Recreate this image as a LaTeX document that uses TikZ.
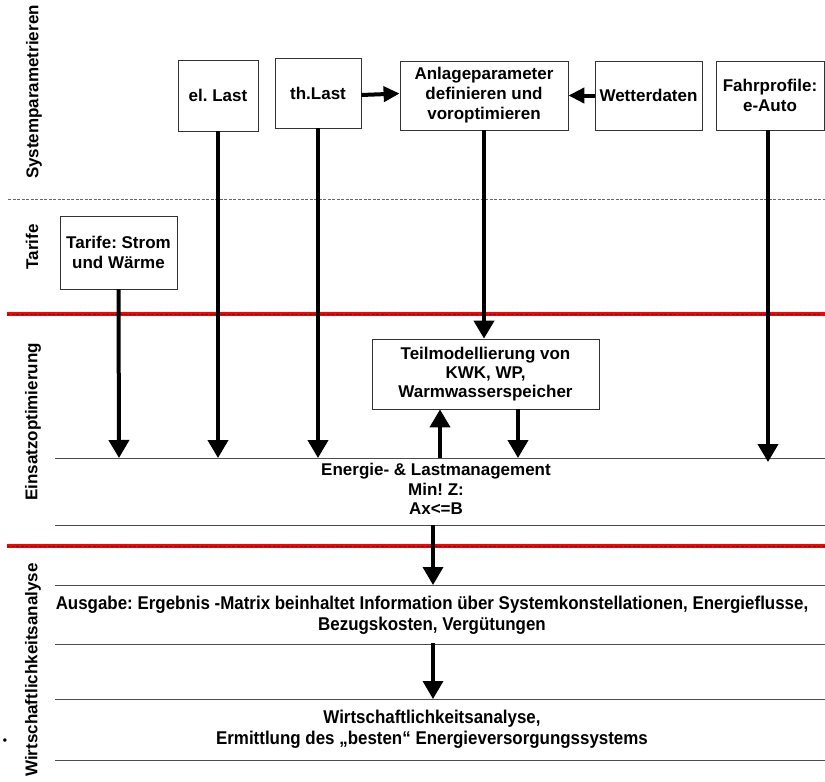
\documentclass[tikz,border=0pt]{standalone}
\usepackage{fontspec}
\setmainfont{Liberation Sans}
\frenchspacing
\usetikzlibrary{arrows.meta}
\begin{document}
\begin{tikzpicture}[x=1pt,y=-1pt,
  box/.style={draw=black!80,line width=0.8pt,align=center,font=\bfseries\fontsize{17}{20}\selectfont,inner sep=1pt},
  lbl/.style={rotate=90,font=\bfseries\fontsize{17}{19}\selectfont},
  txt/.style={align=center,font=\bfseries\fontsize{17}{19.5}\selectfont},
  wtxt/.style={align=center,font=\bfseries\fontsize{18.5}{21.5}\selectfont,xscale=0.915},
  bigarrow/.style={line width=4pt,-{Triangle[length=18pt,width=20pt]}},
  smallarrow/.style={line width=4pt,-{Triangle[length=16pt,width=15pt]}},
  sep/.style={draw=black!70,line width=0.8pt},
  redline/.style={draw=red,line width=4pt},
  gdash/.style={draw=black!60,line width=0.6pt,dash pattern=on 3pt off 1.5pt}
]
\useasboundingbox (0,0) rectangle (825,782);
% separators
\draw[gdash] (8,199) -- (825,199);
\draw[redline] (7,314) -- (825,314);
\draw[gdash,draw=black!80] (7,314) -- (820,314);
\draw[redline] (7,546) -- (825,546);
\draw[gdash,draw=black!80] (7,546) -- (825,546);
\foreach \yy in {458,525,585,644,699,760} \draw[sep] (55,\yy) -- (825,\yy);
% side labels
\node[lbl] (l1) at (34,92) {Systemparametrieren};
\node[lbl] (l2) at (32,247) {Tarife};
\node[lbl] (l3) at (33,422) {Einsatzoptimierung};
\node[lbl] (l4) at (33,670) {Wirtschaftlichkeitsanalyse};
\node[font=\bfseries\fontsize{12}{12}\selectfont] (dot) at (5,742) {•};
% boxes
\node[box,minimum width=80pt,minimum height=71pt] (el) at (218,95.5) {el. Last};
\node[box,minimum width=86pt,minimum height=70pt] (th) at (318,93) {th.Last};
\node[box,minimum width=168pt,minimum height=69pt] (an) at (484,95.5) {Anlageparameter\\definieren und\\voroptimieren};
\node[box,minimum width=107pt,minimum height=69pt] (we) at (648.5,95.5) {Wetterdaten};
\node[box,minimum width=108pt,minimum height=69pt] (fa) at (770,95.5) {Fahrprofile:\\e-Auto};
\node[box,minimum width=117pt,minimum height=73pt] (ta) at (118.5,252.5) {Tarife: Strom\\und Wärme};
\node[box,minimum width=227pt,minimum height=70pt,font=\bfseries\fontsize{17}{19}\selectfont] (tm) at (485.5,374) {Teilmodellierung von\\KWK, WP,\\Warmwasserspeicher};
% texts
\node[txt] (em) at (436,489) {Energie- \& Lastmanagement\\Min! Z:\\Ax<=B};
\node[wtxt] (au) at (432,615) {Ausgabe: Ergebnis -Matrix beinhaltet Information über Systemkonstellationen, Energieflusse,\\Bezugskosten, Vergütungen};
\node[wtxt] (wa) at (432,729) {Wirtschaftlichkeitsanalyse,\\Ermittlung des „besten“ Energieversorgungssystems};
% coordinates
\coordinate (t1) at (119,458);
\coordinate (t2) at (218,458);
\coordinate (t3) at (318,458);
\coordinate (t4) at (768,462);
\coordinate (u1) at (440,458);
\coordinate (d1) at (518,458);
\coordinate (o1) at (433,525);
\coordinate (o2) at (433,585);
\coordinate (o3) at (433,643);
\coordinate (o4) at (433,699);
% arrows
\draw[smallarrow] (th.east) ++(0,2) -- ([yshift=2pt]an.west);
\draw[smallarrow] (we.west) -- (an.east);
\draw[bigarrow] (ta.south) -- (t1);
\draw[bigarrow] (el.south) -- (t2);
\draw[bigarrow] (th.south) -- (t3);
\draw[bigarrow] (an.south) -- (tm.north -| an.south);
\draw[bigarrow] (fa.south -| t4) -- (t4);
\draw[bigarrow] (u1) -- (tm.south -| u1);
\draw[bigarrow] (tm.south -| d1) -- (d1);
\draw[bigarrow,line width=3.5pt] (o1) -- (o2);
\draw[bigarrow,line width=3.5pt] (o3) -- (o4);
\end{tikzpicture}
\end{document}
